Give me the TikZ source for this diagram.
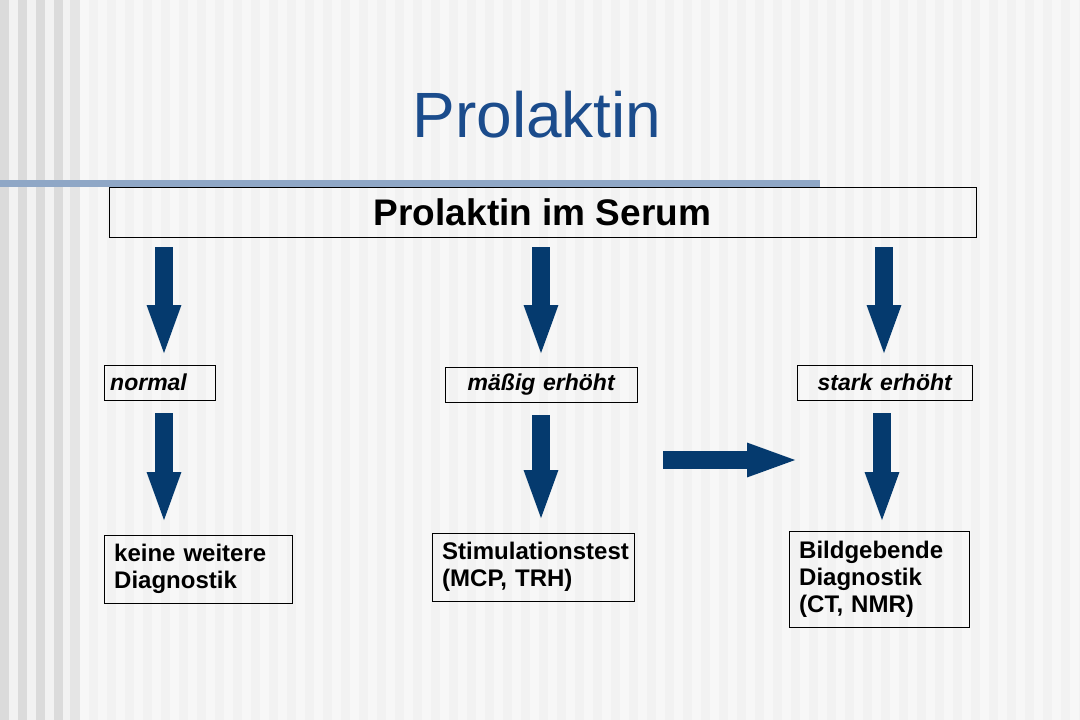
\documentclass[tikz,border=0pt]{standalone}
\usepackage{fontspec}
\setmainfont{Liberation Sans}
\usetikzlibrary{arrows.meta}
\definecolor{darkblue}{HTML}{053A6E}
\definecolor{titleblue}{HTML}{1B4C8C}
\definecolor{lineblue}{HTML}{8FA7C6}
\tikzset{bigarrow/.style={draw=darkblue, line width=18pt,
      -{Triangle[length=53pt, width=30pt]}}}
\tikzset{box/.style={draw=black, anchor=north west, align=left,
      inner xsep=10pt, inner ysep=6pt, font=\bfseries\fontsize{24}{27}\selectfont}}
\tikzset{label/.style={box, inner xsep=6pt, inner ysep=0pt, minimum height=35pt,
      font=\bfseries\itshape\fontsize{23}{26}\selectfont}}

\begin{document}
\begin{tikzpicture}[x=1pt,y=-1pt]
    \useasboundingbox (0,0) rectangle (1080,720);
    % background stripes
    \fill[white!95!black] (0,0) rectangle (1080,720);
    \foreach \i in {0,18,...,62}
      \fill[white!86!black] (\i,0) rectangle ++(9,720);
    \fill[white!90!black] (70,0) rectangle (80,720);
    \foreach \i in {80,98,...,1070}
      \fill[white!97!black] (\i,0) rectangle ++(9,720);
    \fill[lineblue] (0,180) rectangle (820,187);

    \node[text=titleblue, font=\fontsize{64}{70}\selectfont] (title) at (537,115) {Prolaktin};
    \node[draw=black, minimum width=867pt, minimum height=50pt, inner sep=0pt,
      font=\bfseries\fontsize{37}{40}\selectfont] (serum) at (542.5,212) {Prolaktin im Serum};

    \node[label, text width=99pt] (normal) at (104,365) {normal};
    \node[label, text width=180pt, align=center] (maessig) at (445,367) {mäßig erhöht};
    \node[label, text width=163pt, align=center] (stark) at (797,365) {stark erhöht};

    \node[box, text width=168pt, minimum height=68pt] (keine) at (104,535) {keine weitere\\Diagnostik};
    \node[box, text width=182pt, minimum height=68pt] (stimul) at (432,533) {Stimulationstest\\(MCP, TRH)};
    \node[box, text width=160pt, minimum height=96pt] (bild) at (789,531) {Bildgebende\\Diagnostik\\(CT, NMR)};

    \coordinate (a1) at (164,247); \coordinate (b1) at (164,358);
    \coordinate (a2) at (541,247); \coordinate (b2) at (541,358);
    \coordinate (a3) at (884,247); \coordinate (b3) at (884,358);
    \coordinate (c1) at (164,413); \coordinate (d1) at (164,525);
    \coordinate (c2) at (541,415); \coordinate (d2) at (541,523);
    \coordinate (c3) at (882,413); \coordinate (d3) at (882,525);
    \coordinate (h1) at (663,460); \coordinate (h2) at (800,460);

    \foreach \s/\t in {a1/b1,a2/b2,a3/b3,c1/d1,c2/d2,c3/d3,h1/h2}
      \draw[bigarrow] (\s) -- (\t);
\end{tikzpicture}
\end{document}
